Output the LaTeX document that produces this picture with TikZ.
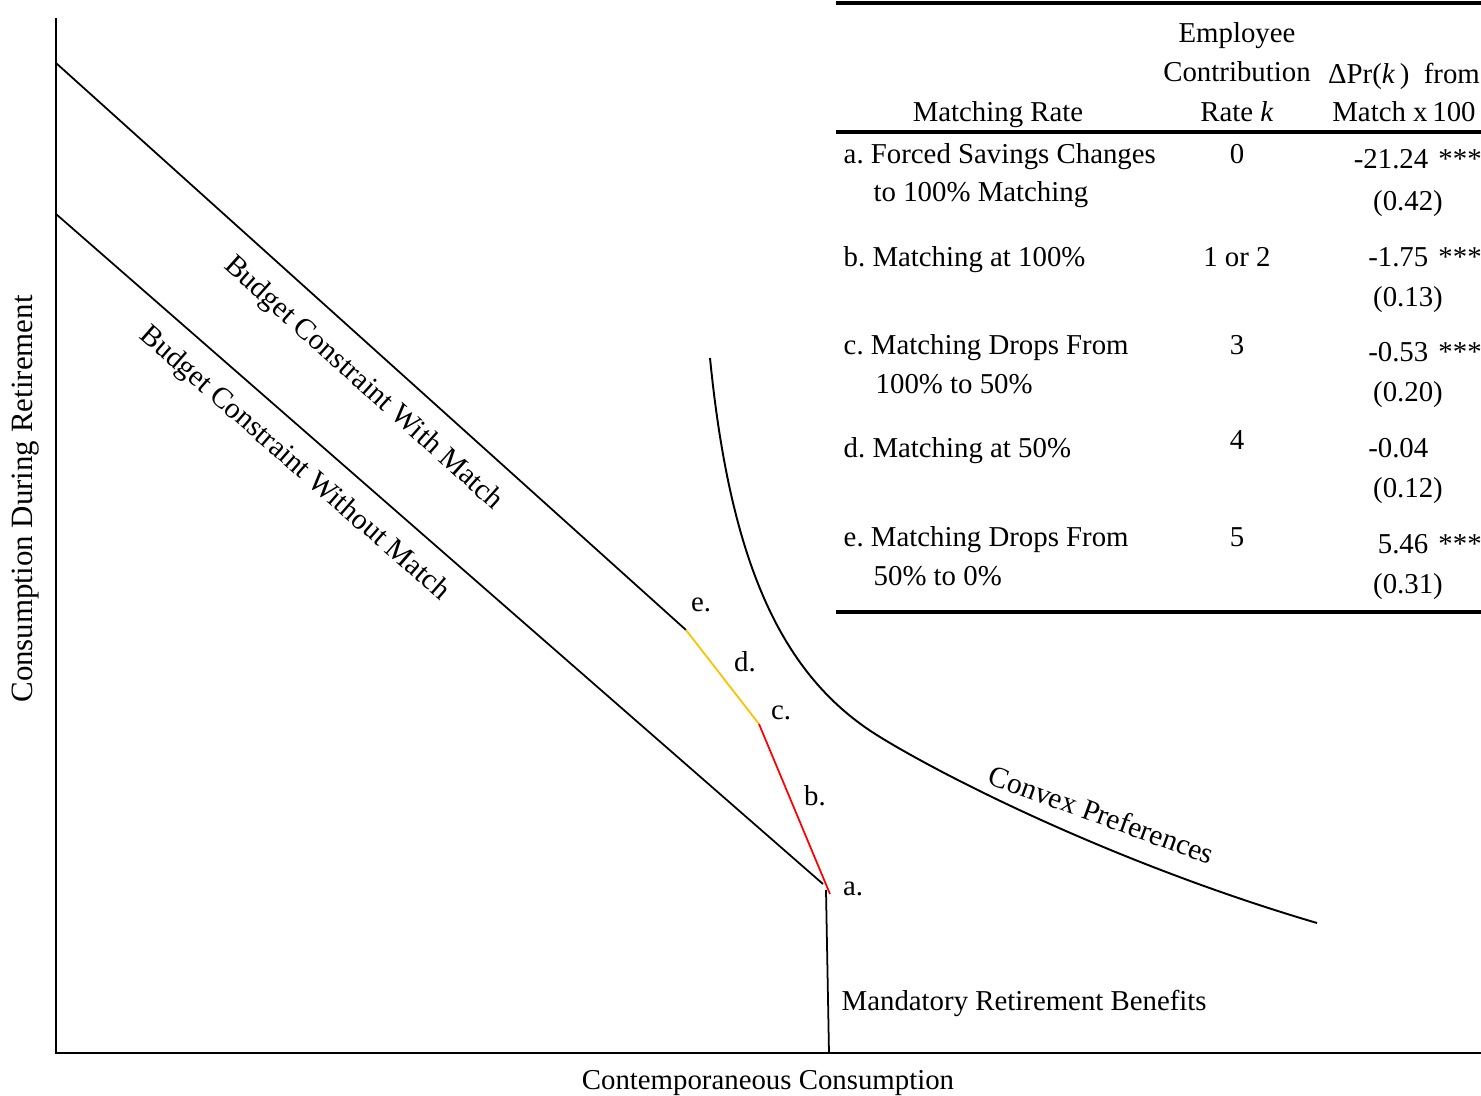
\documentclass[tikz,border=0pt]{standalone}
\usepackage{fontspec}
\setmainfont{Liberation Serif}
\usetikzlibrary{positioning,calc}
\definecolor{Gold}{HTML}{FFC000}
\definecolor{Red}{HTML}{FF0000}
\tikzset{
 axis/.style={line width=0.65pt},
 budget/.style={line width=0.5pt},
 curve/.style={line width=0.55pt},
 rule/.style={line width=0.9pt},
 txt/.style={inner sep=0pt, text height=0.68em, text depth=0.2em},
 slopetxt/.style={txt, font=\fontsize{8.4}{10}\selectfont}
}
\begin{document}
\begin{tikzpicture}[x=0.1mm,y=-0.1mm,font=\fontsize{8.2}{10}\selectfont]
\useasboundingbox (0,0) rectangle (1481,1096);
\coordinate (O) at (56,1053);
\coordinate (ytop) at (56,18);
\coordinate (xend) at (1481,1053);
\draw[axis] (ytop) -- (O) -- (xend);
\coordinate (w0) at (56,63);
\coordinate (e) at (686,630);
\coordinate (c) at (759,724);
\coordinate (a) at (830,894);
\coordinate (n0) at (56,214);
\coordinate (n1) at (823,884);
\coordinate (mtop) at (826,890);
\coordinate (mbot) at (829,1053);
\draw[budget] (w0) -- (e);
\draw[budget,Gold] (e) -- (c);
\draw[budget,Red] (c) -- (a);
\draw[budget] (n0) -- (n1);
\draw[budget] (mtop) -- (mbot);
\coordinate (u0) at (710,358);
\coordinate (u1) at (880,737);
\coordinate (u2) at (1317,923);
\draw[curve] (u0) .. controls (730,560) and (780,676) .. (u1)
  .. controls (950,780) and (1120,865) .. (u2);
\node[slopetxt,rotate=-41.9] (lblWith) at (364,383) {Budget Constraint With Match};
\node[slopetxt,rotate=-41.1] (lblWithout) at (295,463) {Budget Constraint Without Match};
\node[slopetxt,rotate=-20] (lblConvex) at (1101,816) {Convex Preferences};
\node[txt,rotate=90,font=\fontsize{8.8}{10}\selectfont] (ylab) at (24,499) {Consumption During Retirement};
\node[txt] (xlab) at (768,1081) {Contemporaneous Consumption};
\node[txt,anchor=west] (lblMand) at (841,1002) {Mandatory Retirement Benefits};
\foreach \i/\x/\y in {a/853/887,b/815/797,c/781/711,d/745/663,e/701/603}
  \node[txt] (pt\i) at (\x,\y) {\i.};
\draw[rule] (836,3) -- (1481,3);
\draw[rule] (836,132) -- (1481,132);
\draw[rule] (836,612) -- (1481,612);
\node[txt] (hEmp) at (1237,34) {Employee};
\node[txt] (hContr) at (1237,73) {Contribution};
\node[txt] (hRate) at (1237,113) {Rate \textit{k}};
\node[txt] (hMatch) at (998,113) {Matching Rate};
\node[txt] (hDelta) at (1404,75) {ΔPr(\textit{k}\,)\ \ from};
\node[txt] (hTimes) at (1404,113) {Match x\,100};
\foreach \i/\y/\lab in {a/155/a.\ Forced Savings Changes,b/258/b.\ Matching at 100\%,c/346/c.\ Matching Drops From,d/449/d.\ Matching at 50\%,e/538/e.\ Matching Drops From}
  \node[txt,anchor=west] (row\i) at (843,\y) {\lab};
\node[txt,anchor=west] (rowa2) at (873,193) {to 100\% Matching};
\node[txt,anchor=west] (rowc2) at (875,385) {100\% to 50\%};
\node[txt,anchor=west] (rowe2) at (873,577) {50\% to 0\%};
\foreach \i/\y/\k in {a/155/0,b/258/1 or 2,c/346/3,d/441/4,e/538/5}
  \node[txt] (k\i) at (1237,\y) {\k};
\foreach \i/\y/\est in {a/160/-21.24,b/258/-1.75,c/353/-0.53,d/449/-0.04,e/545/5.46}
  \node[txt,anchor=east] (est\i) at (1429,\y) {\est};
\foreach \i in {a,b,c,e}
  \node[txt,anchor=west,right=2.5pt of est\i] (star\i) {***};
\foreach \i/\y/\se in {a/202/0.42,b/298/0.13,c/393/0.20,d/489/0.12,e/585/0.31}
  \node[txt] (se\i) at (1408,\y) {(\se)};
\end{tikzpicture}
\end{document}
